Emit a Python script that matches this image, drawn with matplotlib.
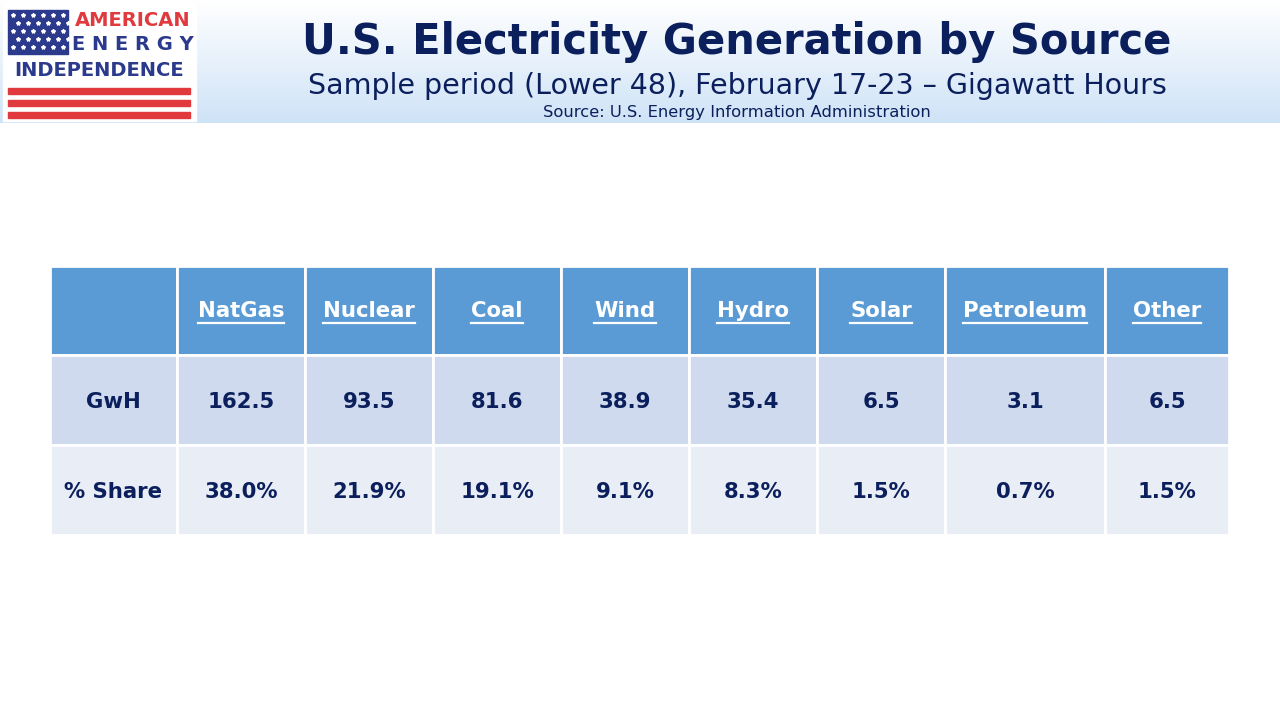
import matplotlib
matplotlib.use("Agg")
import matplotlib.pyplot as plt
import numpy as np
from matplotlib.patches import Rectangle

sources = ["NatGas", "Nuclear", "Coal", "Wind", "Hydro", "Solar", "Petroleum", "Other"]
gwh = ["162.5", "93.5", "81.6", "38.9", "35.4", "6.5", "3.1", "6.5"]
share = ["38.0%", "21.9%", "19.1%", "9.1%", "8.3%", "1.5%", "0.7%", "1.5%"]
row_labels = ["GwH", "% Share"]

NAVY = "#0B1F5C"
fig = plt.figure(figsize=(12.8, 7.2), dpi=100)
ax = fig.add_axes([0, 0, 1, 1])
ax.set_xlim(0, 1280); ax.set_ylim(720, 0); ax.axis("off")

grad = np.linspace(0, 1, 100).reshape(-1, 1)
ax.imshow(grad, extent=[0, 1280, 123, 0], cmap=matplotlib.colors.LinearSegmentedColormap.from_list("g", ["#FFFFFF", "#CFE3F7"]), aspect="auto", zorder=0)
ax.set_xlim(0, 1280); ax.set_ylim(720, 0)

ax.add_patch(Rectangle((3, 3), 193, 118, color="white", zorder=1))
ax.add_patch(Rectangle((8, 10), 60, 44, color="#2B3A8C", zorder=2))
for i in range(6):
    for j in range(5):
        ax.plot(13 + i * 10 + (j % 2) * 5, 15 + j * 8, marker="*", color="white", ms=3, zorder=3)
for yy in [88, 100, 112]:
    ax.add_patch(Rectangle((8, yy), 182, 6, color="#E03A3E", zorder=2))
ax.text(133, 20, "AMERICAN", color="#E03A3E", fontsize=14, fontweight="bold", ha="center", va="center", zorder=3)
ax.text(133, 45, "E N E R G Y", color="#2B3A8C", fontsize=14, fontweight="bold", ha="center", va="center", zorder=3)
ax.text(99, 71, "INDEPENDENCE", color="#2B3A8C", fontsize=14, fontweight="bold", ha="center", va="center", zorder=3)

ax.text(737, 42, "U.S. Electricity Generation by Source", color=NAVY, fontsize=30, fontweight="bold", ha="center", va="center")
ax.text(737, 86, "Sample period (Lower 48), February 17-23 – Gigawatt Hours", color=NAVY, fontsize=20.5, ha="center", va="center")
ax.text(737, 113, "Source: U.S. Energy Information Administration", color=NAVY, fontsize=11.8, ha="center", va="center")

xs = [50, 177, 305, 433, 561, 689, 817, 945, 1105, 1229]
ys = [266, 355, 445, 535]
fills = ["#5B9BD5", "#CFDAEE", "#E9EDF6"]
for r in range(3):
    for c in range(9):
        ax.add_patch(Rectangle((xs[c], ys[r]), xs[c + 1] - xs[c], ys[r + 1] - ys[r],
                               facecolor=fills[r], edgecolor="white", lw=2, zorder=2))

FS = 15.3
hdr = []
for c, s in enumerate(sources):
    cx = (xs[c + 1] + xs[c + 2]) / 2
    hdr.append(ax.text(cx, 311, s, color="white", fontsize=FS, fontweight="bold", ha="center", va="center", zorder=3))
for r, (lab, vals) in enumerate(zip(row_labels, [gwh, share])):
    cy = (ys[r + 1] + ys[r + 2]) / 2 + 2
    ax.text((xs[0] + xs[1]) / 2, cy, lab, color=NAVY, fontsize=FS, fontweight="bold", ha="center", va="center", zorder=3)
    for c, v in enumerate(vals):
        ax.text((xs[c + 1] + xs[c + 2]) / 2, cy, v, color=NAVY, fontsize=FS, fontweight="bold", ha="center", va="center", zorder=3)

fig.canvas.draw()
inv = ax.transData.inverted()
for t in hdr:
    bb = t.get_window_extent()
    (x0, y0), (x1, y1) = inv.transform([(bb.x0, bb.y0), (bb.x1, bb.y1)])
    ax.plot([x0, x1], [y0 + 2, y0 + 2], color="white", lw=1.6, zorder=3)

fig.savefig("out.png", dpi=100)
